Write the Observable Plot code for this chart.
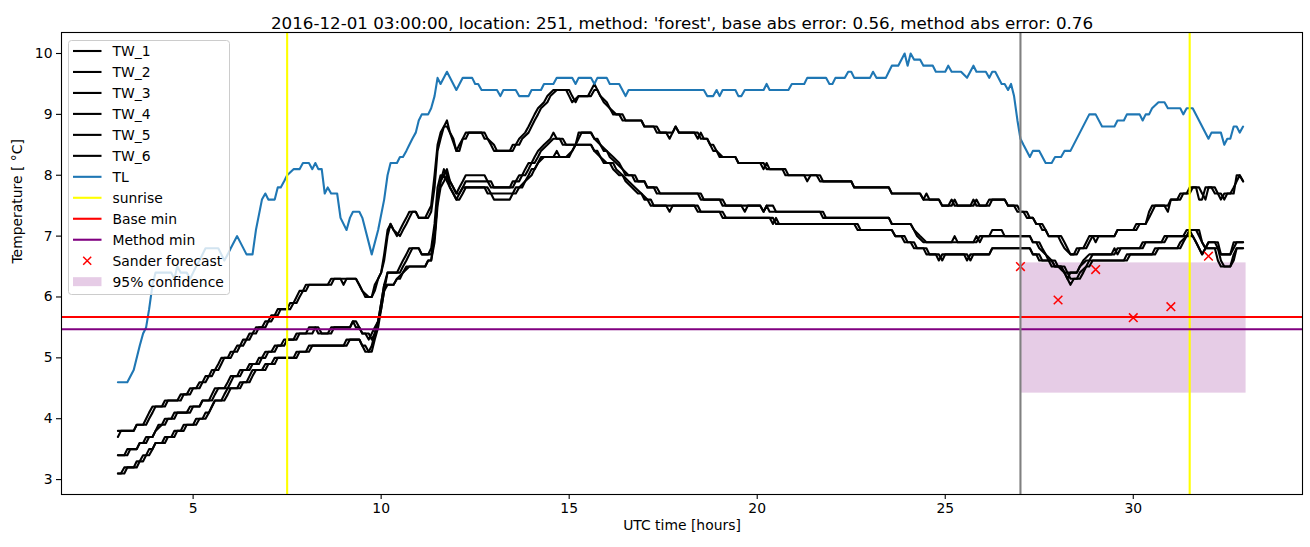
<!DOCTYPE html>
<html><head><meta charset="utf-8">
<script src="https://cdn.jsdelivr.net/npm/d3@7"></script>
<script src="https://cdn.jsdelivr.net/npm/@observablehq/plot@0.6"></script>
<style>body{margin:0;background:#fff;} #chart{width:1310px;height:547px;}</style>
</head><body><div id="chart"></div>
<script>
// ---- data: [time (h), temperature (°C)] vertices ----
const TW_1 = [[3.0,3.7],[3.08,3.8],[3.42,3.8],[3.5,3.9],[3.67,3.9],[3.75,4.0],[3.83,4.1],[3.92,4.2],[4.17,4.2],[4.25,4.3],[4.58,4.3],[4.67,4.4],[4.83,4.4],[4.92,4.5],[5.08,4.5],[5.17,4.6],[5.25,4.6],[5.33,4.7],[5.42,4.7],[5.5,4.8],[5.58,4.8],[5.67,4.9],[5.75,5.0],[5.92,5.0],[6.0,5.1],[6.08,5.1],[6.17,5.2],[6.25,5.2],[6.33,5.3],[6.42,5.3],[6.5,5.4],[6.58,5.4],[6.67,5.5],[6.83,5.5],[6.92,5.6],[7.0,5.6],[7.08,5.7],[7.17,5.7],[7.25,5.8],[7.5,5.8],[7.58,5.9],[7.67,5.9],[7.75,6.0],[7.83,6.1],[7.92,6.1],[8.0,6.2],[8.58,6.2],[8.67,6.3],[8.92,6.3],[9.0,6.2],[9.08,6.3],[9.33,6.3],[9.42,6.2],[9.5,6.1],[9.58,6.0],[9.75,6.0],[9.83,6.2],[9.92,6.3],[10.0,6.4],[10.08,6.7],[10.17,7.1],[10.25,7.2],[10.33,7.1],[10.42,7.0],[10.5,7.1],[10.58,7.2],[10.67,7.3],[10.75,7.4],[10.92,7.4],[11.0,7.3],[11.17,7.3],[11.25,7.4],[11.33,7.5],[11.42,8.0],[11.5,8.5],[11.58,8.7],[11.67,8.8],[11.75,8.9],[11.83,8.7],[11.92,8.6],[12.0,8.4],[12.08,8.5],[12.17,8.6],[12.25,8.7],[12.67,8.7],[12.75,8.6],[12.83,8.6],[12.92,8.5],[13.0,8.4],[13.42,8.4],[13.5,8.5],[13.58,8.5],[13.67,8.6],[13.83,8.7],[13.92,8.8],[14.0,8.9],[14.08,9.0],[14.17,9.1],[14.33,9.2],[14.42,9.3],[14.58,9.4],[14.92,9.4],[15.0,9.3],[15.08,9.2],[15.25,9.3],[15.5,9.3],[15.67,9.5],[15.75,9.4],[15.83,9.3],[15.92,9.2],[16.08,9.1],[16.17,9.0],[16.33,9.0],[16.42,8.9],[16.92,8.9],[17.0,8.8],[17.25,8.8],[17.33,8.7],[17.58,8.7],[17.67,8.6],[17.75,8.7],[17.83,8.8],[17.92,8.7],[18.33,8.7],[18.42,8.6],[18.5,8.7],[18.58,8.6],[18.67,8.6],[18.75,8.5],[18.83,8.4],[18.92,8.4],[19.0,8.3],[19.42,8.3],[19.5,8.2],[20.08,8.2],[20.17,8.1],[20.25,8.2],[20.33,8.1],[20.67,8.1],[20.75,8.0],[21.25,8.0],[21.33,7.9],[21.42,8.0],[21.58,8.0],[21.67,7.9],[22.5,7.9],[22.58,7.8],[23.5,7.8],[23.58,7.7],[24.33,7.7],[24.42,7.6],[24.5,7.7],[24.58,7.6],[24.83,7.6],[24.92,7.5],[25.17,7.5],[25.25,7.6],[25.33,7.5],[25.67,7.5],[25.75,7.6],[25.83,7.5],[26.17,7.5],[26.25,7.6],[26.58,7.6],[26.67,7.5],[26.92,7.5],[27.0,7.4],[27.17,7.4],[27.25,7.3],[27.33,7.3],[27.42,7.2],[27.58,7.2],[27.67,7.1],[27.75,7.0],[28.08,7.0],[28.17,6.9],[28.25,6.8],[28.33,6.7],[28.42,6.7],[28.5,6.8],[28.67,6.8],[28.75,6.9],[28.83,7.0],[28.92,7.0],[29.0,6.9],[29.08,7.0],[29.5,7.0],[29.58,7.1],[30.0,7.1],[30.08,7.2],[30.33,7.2],[30.42,7.3],[30.5,7.4],[30.58,7.5],[30.83,7.5],[30.92,7.4],[31.0,7.6],[31.17,7.6],[31.25,7.7],[31.42,7.7],[31.5,7.8],[31.75,7.8],[31.83,7.7],[31.92,7.6],[32.0,7.8],[32.17,7.8],[32.25,7.7],[32.33,7.6],[32.42,7.7],[32.58,7.7],[32.67,7.8],[32.75,7.9],[32.83,8.0],[32.92,7.9]];
const TW_2 = [[3.0,3.8],[3.42,3.8],[3.5,3.9],[3.75,3.9],[3.83,4.0],[3.92,4.1],[4.0,4.2],[4.25,4.2],[4.33,4.3],[4.67,4.3],[4.75,4.4],[4.92,4.4],[5.0,4.5],[5.17,4.5],[5.25,4.6],[5.33,4.6],[5.42,4.7],[5.5,4.7],[5.58,4.8],[5.67,4.8],[5.75,4.9],[5.83,5.0],[6.0,5.0],[6.08,5.1],[6.17,5.1],[6.25,5.2],[6.33,5.2],[6.42,5.3],[6.5,5.3],[6.58,5.4],[6.67,5.4],[6.75,5.5],[6.92,5.5],[7.0,5.6],[7.08,5.6],[7.17,5.7],[7.25,5.7],[7.33,5.8],[7.58,5.8],[7.67,5.9],[7.75,5.9],[7.83,6.0],[7.92,6.1],[8.0,6.1],[8.08,6.2],[8.67,6.2],[8.75,6.3],[9.33,6.3],[9.5,6.1],[9.67,6.0],[9.75,6.0],[9.83,6.1],[9.92,6.3],[10.0,6.4],[10.08,6.6],[10.17,7.0],[10.25,7.2],[10.33,7.1],[10.5,7.0],[10.58,7.1],[10.67,7.2],[10.75,7.3],[10.83,7.4],[10.92,7.4],[11.0,7.3],[11.25,7.3],[11.33,7.4],[11.42,7.8],[11.5,8.4],[11.58,8.6],[11.67,8.8],[11.75,8.8],[11.83,8.7],[12.0,8.4],[12.08,8.4],[12.17,8.6],[12.25,8.6],[12.33,8.7],[12.75,8.7],[12.83,8.6],[13.0,8.5],[13.08,8.4],[13.5,8.4],[13.58,8.5],[13.67,8.5],[13.75,8.6],[13.92,8.7],[14.0,8.8],[14.08,8.9],[14.17,9.0],[14.25,9.1],[14.42,9.2],[14.5,9.3],[14.67,9.4],[15.0,9.4],[15.08,9.3],[15.17,9.2],[15.25,9.3],[15.58,9.3],[15.67,9.4],[15.75,9.4],[15.83,9.3],[16.0,9.2],[16.08,9.1],[16.25,9.0],[16.42,9.0],[16.5,8.9],[16.92,8.9],[17.0,8.8],[17.33,8.8],[17.42,8.7],[17.75,8.7],[17.83,8.8],[17.92,8.7],[18.42,8.7],[18.5,8.6],[18.67,8.6],[18.75,8.5],[18.83,8.5],[18.92,8.4],[19.08,8.3],[19.42,8.3],[19.5,8.2],[20.17,8.2],[20.25,8.1],[20.75,8.1],[20.83,8.0],[21.67,8.0],[21.75,7.9],[22.5,7.9],[22.58,7.8],[23.5,7.8],[23.58,7.7],[24.33,7.7],[24.42,7.6],[24.83,7.6],[24.92,7.5],[25.08,7.5],[25.17,7.6],[25.25,7.5],[25.75,7.5],[25.83,7.6],[25.92,7.5],[26.08,7.5],[26.17,7.6],[26.58,7.6],[26.67,7.5],[26.83,7.5],[26.92,7.4],[27.08,7.4],[27.17,7.3],[27.33,7.3],[27.42,7.2],[27.5,7.2],[27.58,7.1],[27.67,7.1],[27.75,7.0],[28.0,7.0],[28.08,6.9],[28.17,6.8],[28.33,6.7],[28.42,6.7],[28.5,6.7],[28.58,6.8],[28.75,6.8],[28.83,6.9],[28.92,7.0],[29.5,7.0],[29.58,7.1],[30.08,7.1],[30.17,7.2],[30.33,7.2],[30.42,7.4],[30.5,7.5],[30.92,7.5],[31.0,7.6],[31.25,7.6],[31.33,7.7],[31.5,7.7],[31.58,7.8],[31.67,7.8],[31.75,7.6],[31.83,7.6],[31.92,7.8],[32.08,7.8],[32.17,7.7],[32.33,7.7],[32.42,7.6],[32.5,7.7],[32.67,7.7],[32.75,8.0],[32.83,8.0],[32.92,7.9]];
const TW_3 = [[3.0,3.4],[3.17,3.4],[3.25,3.5],[3.5,3.5],[3.58,3.6],[3.67,3.6],[3.75,3.7],[3.92,3.7],[4.0,3.8],[4.08,3.9],[4.17,3.9],[4.25,4.0],[4.42,4.0],[4.5,4.1],[4.83,4.1],[4.92,4.2],[5.17,4.2],[5.25,4.3],[5.42,4.3],[5.5,4.4],[5.58,4.5],[5.83,4.5],[5.92,4.6],[6.0,4.7],[6.17,4.7],[6.25,4.8],[6.42,4.8],[6.5,4.9],[6.67,4.9],[6.75,5.0],[6.83,5.0],[6.92,5.1],[7.08,5.1],[7.17,5.2],[7.33,5.2],[7.42,5.3],[7.67,5.3],[7.75,5.4],[8.0,5.4],[8.08,5.5],[8.33,5.5],[8.42,5.4],[8.58,5.4],[8.67,5.5],[9.17,5.5],[9.25,5.6],[9.33,5.5],[9.42,5.5],[9.5,5.4],[9.58,5.4],[9.67,5.3],[9.75,5.4],[9.83,5.5],[9.92,5.6],[10.0,5.8],[10.08,6.1],[10.17,6.4],[10.42,6.4],[10.5,6.5],[10.58,6.6],[10.67,6.7],[10.75,6.8],[11.0,6.8],[11.08,6.7],[11.25,6.7],[11.33,6.8],[11.42,7.2],[11.5,7.8],[11.58,8.0],[11.67,8.0],[11.75,8.1],[11.83,7.9],[11.92,7.8],[12.0,7.7],[12.08,7.8],[12.17,7.9],[12.25,8.0],[12.75,8.0],[12.83,7.9],[12.92,7.9],[13.0,7.8],[13.42,7.8],[13.5,7.9],[13.58,7.9],[13.67,8.0],[13.75,8.0],[13.83,8.1],[13.92,8.2],[14.0,8.2],[14.08,8.3],[14.17,8.4],[14.33,8.5],[14.5,8.6],[14.58,8.7],[14.67,8.6],[14.83,8.6],[14.92,8.5],[15.17,8.5],[15.25,8.7],[15.58,8.7],[15.67,8.6],[15.83,8.5],[15.92,8.4],[16.0,8.4],[16.08,8.3],[16.25,8.2],[16.42,8.1],[16.5,8.0],[16.67,8.0],[16.75,7.9],[17.0,7.9],[17.08,7.8],[17.25,7.8],[17.33,7.7],[18.42,7.7],[18.5,7.6],[19.0,7.6],[19.08,7.5],[19.58,7.5],[19.67,7.4],[19.75,7.5],[20.08,7.5],[20.17,7.4],[20.25,7.5],[20.33,7.4],[21.67,7.4],[21.75,7.3],[23.5,7.3],[23.58,7.2],[24.08,7.2],[24.17,7.1],[24.25,7.0],[24.42,6.9],[25.17,6.9],[25.25,7.0],[25.33,6.9],[25.75,6.9],[25.83,7.0],[25.92,6.9],[26.0,7.0],[26.17,7.0],[26.25,7.1],[26.5,7.1],[26.58,7.0],[27.25,7.0],[27.33,6.9],[27.5,6.9],[27.58,6.8],[27.67,6.7],[27.83,6.6],[27.92,6.5],[28.08,6.5],[28.17,6.4],[28.5,6.4],[28.58,6.5],[28.67,6.6],[28.83,6.7],[29.42,6.7],[29.5,6.8],[29.58,6.7],[29.67,6.8],[30.17,6.8],[30.25,6.9],[30.75,6.9],[30.83,7.0],[31.33,7.0],[31.42,7.1],[31.75,7.1],[31.83,6.9],[31.92,6.8],[32.0,6.9],[32.25,6.9],[32.33,6.7],[32.58,6.7],[32.67,6.8],[32.75,6.9],[32.92,6.9]];
const TW_4 = [[3.0,3.4],[3.25,3.4],[3.33,3.5],[3.5,3.5],[3.58,3.6],[3.75,3.6],[3.83,3.7],[3.92,3.7],[4.0,3.8],[4.17,3.9],[4.25,3.9],[4.33,4.0],[4.5,4.0],[4.58,4.1],[4.92,4.1],[5.0,4.2],[5.17,4.2],[5.25,4.3],[5.5,4.3],[5.58,4.4],[5.67,4.5],[5.92,4.5],[6.0,4.6],[6.08,4.7],[6.25,4.7],[6.33,4.8],[6.5,4.8],[6.58,4.9],[6.75,4.9],[6.83,5.0],[6.92,5.0],[7.0,5.1],[7.17,5.1],[7.25,5.2],[7.42,5.2],[7.5,5.3],[7.75,5.3],[7.83,5.4],[8.17,5.4],[8.25,5.5],[8.33,5.4],[8.67,5.4],[8.75,5.5],[9.17,5.5],[9.25,5.6],[9.33,5.6],[9.42,5.5],[9.5,5.4],[9.67,5.4],[9.75,5.3],[9.83,5.4],[9.92,5.6],[10.0,5.9],[10.08,6.2],[10.17,6.4],[10.5,6.4],[10.58,6.5],[10.67,6.6],[10.75,6.7],[10.83,6.8],[11.0,6.8],[11.08,6.7],[11.33,6.7],[11.42,7.0],[11.5,7.6],[11.58,7.9],[11.67,8.1],[11.75,8.0],[11.83,7.9],[12.0,7.7],[12.08,7.7],[12.17,7.8],[12.25,7.9],[12.83,7.9],[12.92,7.8],[13.5,7.8],[13.58,7.9],[13.67,7.9],[13.75,8.0],[13.83,8.0],[13.92,8.1],[14.0,8.2],[14.08,8.2],[14.17,8.3],[14.25,8.4],[14.42,8.5],[14.58,8.6],[14.75,8.6],[14.83,8.5],[15.17,8.5],[15.25,8.6],[15.33,8.7],[15.58,8.7],[15.67,8.6],[15.75,8.6],[15.83,8.5],[16.0,8.4],[16.17,8.3],[16.33,8.2],[16.42,8.1],[16.58,8.0],[16.75,8.0],[16.83,7.9],[17.0,7.9],[17.08,7.8],[17.33,7.8],[17.42,7.7],[18.5,7.7],[18.58,7.6],[19.08,7.6],[19.17,7.5],[20.08,7.5],[20.17,7.4],[20.25,7.5],[20.42,7.5],[20.5,7.4],[21.75,7.4],[21.83,7.3],[23.5,7.3],[23.58,7.2],[24.08,7.2],[24.17,7.1],[24.33,7.0],[24.5,6.9],[25.83,6.9],[25.92,7.0],[27.25,7.0],[27.33,6.9],[27.42,6.9],[27.5,6.8],[27.67,6.7],[27.75,6.6],[27.92,6.6],[28.0,6.5],[28.17,6.4],[28.25,6.3],[28.33,6.4],[28.5,6.4],[28.58,6.5],[28.75,6.6],[28.83,6.6],[28.92,6.7],[29.5,6.7],[29.58,6.8],[30.25,6.8],[30.33,6.9],[30.83,6.9],[30.92,7.0],[31.42,7.0],[31.5,7.1],[31.67,7.1],[31.75,7.0],[31.83,6.9],[31.92,6.8],[32.0,6.9],[32.17,6.9],[32.25,6.8],[32.33,6.7],[32.58,6.7],[32.67,6.9],[32.92,6.9]];
const TW_5 = [[3.0,3.1],[3.17,3.1],[3.25,3.2],[3.5,3.2],[3.58,3.3],[3.67,3.3],[3.75,3.4],[3.83,3.4],[3.92,3.5],[4.0,3.6],[4.25,3.6],[4.33,3.7],[4.5,3.7],[4.58,3.8],[4.75,3.8],[4.83,3.9],[5.08,3.9],[5.17,4.0],[5.33,4.0],[5.42,4.1],[5.5,4.2],[5.58,4.3],[5.83,4.3],[5.92,4.4],[6.0,4.5],[6.25,4.5],[6.33,4.6],[6.5,4.6],[6.58,4.7],[6.67,4.8],[6.92,4.8],[7.0,4.9],[7.17,4.9],[7.25,5.0],[7.75,5.0],[7.83,5.1],[8.08,5.1],[8.17,5.2],[9.08,5.2],[9.17,5.3],[9.42,5.3],[9.5,5.2],[9.58,5.1],[9.67,5.1],[9.75,5.2],[9.83,5.4],[9.92,5.6],[10.0,5.9],[10.08,6.2],[10.33,6.2],[10.42,6.3],[10.58,6.4],[10.67,6.5],[11.17,6.5],[11.25,6.6],[11.33,6.6],[11.42,6.9],[11.5,7.5],[11.58,7.8],[11.67,7.9],[11.75,8.0],[11.83,7.8],[11.92,7.7],[12.0,7.6],[12.08,7.7],[12.17,7.8],[12.83,7.8],[12.92,7.7],[13.0,7.6],[13.42,7.6],[13.5,7.7],[13.58,7.7],[13.67,7.8],[13.83,7.9],[13.92,8.0],[14.0,8.1],[14.08,8.1],[14.17,8.2],[14.33,8.3],[14.92,8.3],[15.08,8.4],[15.17,8.5],[15.58,8.5],[15.67,8.4],[15.83,8.3],[15.92,8.2],[16.08,8.2],[16.17,8.1],[16.33,8.0],[16.42,8.0],[16.5,7.9],[16.67,7.8],[16.83,7.7],[16.92,7.7],[17.0,7.6],[17.17,7.6],[17.25,7.5],[17.58,7.5],[17.67,7.4],[17.75,7.5],[18.42,7.5],[18.5,7.4],[19.0,7.4],[19.08,7.3],[20.33,7.3],[20.42,7.2],[20.5,7.3],[20.58,7.2],[22.58,7.2],[22.67,7.1],[23.58,7.1],[23.67,7.0],[23.83,7.0],[23.92,6.9],[24.08,6.9],[24.17,6.8],[24.42,6.8],[24.5,6.7],[24.75,6.7],[24.83,6.6],[24.92,6.7],[25.5,6.7],[25.58,6.6],[25.67,6.7],[26.17,6.7],[26.25,6.8],[27.25,6.8],[27.33,6.7],[27.42,6.7],[27.5,6.6],[27.75,6.6],[27.83,6.5],[28.08,6.5],[28.17,6.4],[28.25,6.3],[28.33,6.2],[28.42,6.3],[28.58,6.3],[28.67,6.4],[28.75,6.5],[28.83,6.5],[28.92,6.6],[29.83,6.6],[29.92,6.7],[30.58,6.7],[30.67,6.8],[31.25,6.8],[31.33,6.9],[31.42,7.0],[31.58,7.0],[31.67,6.9],[31.75,6.8],[31.83,6.7],[31.92,6.8],[32.17,6.8],[32.25,6.6],[32.33,6.5],[32.58,6.5],[32.67,6.7],[32.75,6.8],[32.92,6.8]];
const TW_6 = [[3.0,3.1],[3.08,3.1],[3.17,3.2],[3.42,3.2],[3.5,3.3],[3.58,3.3],[3.67,3.4],[3.75,3.4],[3.83,3.5],[3.92,3.5],[4.0,3.6],[4.17,3.6],[4.25,3.7],[4.42,3.7],[4.5,3.8],[4.67,3.8],[4.75,3.9],[5.0,3.9],[5.08,4.0],[5.25,4.0],[5.33,4.1],[5.42,4.1],[5.5,4.2],[5.58,4.3],[5.75,4.3],[5.83,4.4],[5.92,4.5],[6.17,4.5],[6.25,4.6],[6.42,4.6],[6.5,4.7],[6.58,4.8],[6.83,4.8],[6.92,4.9],[7.08,4.9],[7.17,5.0],[7.67,5.0],[7.75,5.1],[8.0,5.1],[8.08,5.2],[9.0,5.2],[9.08,5.3],[9.42,5.3],[9.5,5.2],[9.58,5.2],[9.67,5.1],[9.75,5.1],[9.83,5.3],[9.92,5.5],[10.0,5.8],[10.08,6.1],[10.17,6.2],[10.33,6.2],[10.42,6.3],[10.5,6.3],[10.58,6.4],[10.75,6.5],[11.17,6.5],[11.25,6.6],[11.33,6.6],[11.42,7.0],[11.5,7.6],[11.58,7.9],[11.67,8.0],[11.75,7.9],[11.83,7.8],[12.0,7.6],[12.08,7.6],[12.17,7.7],[12.25,7.8],[12.75,7.8],[12.83,7.7],[13.5,7.7],[13.58,7.8],[13.75,7.8],[13.83,7.9],[14.0,8.0],[14.08,8.1],[14.17,8.2],[14.25,8.3],[14.58,8.3],[14.67,8.4],[14.75,8.3],[15.0,8.3],[15.08,8.4],[15.17,8.5],[15.58,8.5],[15.67,8.4],[15.75,8.4],[15.83,8.3],[16.0,8.2],[16.17,8.2],[16.25,8.1],[16.42,8.0],[16.58,7.9],[16.75,7.8],[16.92,7.7],[17.08,7.6],[17.17,7.5],[18.33,7.5],[18.42,7.4],[19.08,7.4],[19.17,7.3],[20.42,7.3],[20.5,7.2],[22.67,7.2],[22.75,7.1],[23.58,7.1],[23.67,7.0],[23.92,7.0],[24.0,6.9],[24.17,6.9],[24.25,6.8],[24.5,6.8],[24.58,6.7],[24.83,6.7],[24.92,6.6],[25.0,6.7],[25.58,6.7],[25.67,6.6],[25.75,6.7],[26.17,6.7],[26.25,6.8],[27.25,6.8],[27.33,6.7],[27.5,6.7],[27.58,6.6],[27.83,6.6],[27.92,6.5],[28.17,6.5],[28.25,6.4],[28.33,6.3],[28.5,6.3],[28.58,6.4],[28.75,6.5],[28.83,6.6],[29.75,6.6],[29.83,6.7],[30.5,6.7],[30.58,6.8],[31.17,6.8],[31.25,6.9],[31.42,7.0],[31.5,7.1],[31.58,7.0],[31.67,6.9],[31.75,6.8],[31.83,6.7],[31.92,6.8],[32.25,6.8],[32.33,6.6],[32.42,6.5],[32.58,6.5],[32.67,6.6],[32.75,6.8],[32.92,6.8]];
const TL = [[3.0,4.6],[3.25,4.6],[3.42,4.8],[3.58,5.2],[3.67,5.4],[3.75,5.5],[3.83,5.8],[3.92,6.2],[4.0,6.4],[4.42,6.4],[4.5,6.3],[4.58,6.5],[4.67,6.4],[4.83,6.4],[4.92,6.3],[5.0,6.4],[5.08,6.5],[5.17,6.6],[5.33,6.8],[5.67,6.8],[5.75,6.7],[5.83,6.6],[5.92,6.7],[6.0,6.8],[6.17,7.0],[6.42,6.7],[6.58,6.7],[6.67,7.1],[6.83,7.6],[6.92,7.7],[7.0,7.6],[7.17,7.6],[7.25,7.8],[7.33,7.8],[7.42,7.9],[7.5,8.0],[7.67,8.1],[7.83,8.1],[7.92,8.2],[8.08,8.2],[8.17,8.1],[8.25,8.2],[8.33,8.1],[8.42,8.1],[8.5,7.7],[8.58,7.8],[8.67,7.7],[8.83,7.7],[8.92,7.3],[9.08,7.1],[9.17,7.3],[9.25,7.4],[9.42,7.4],[9.5,7.3],[9.75,6.7],[9.92,7.1],[10.08,7.6],[10.17,8.0],[10.25,8.2],[10.42,8.2],[10.5,8.3],[10.58,8.3],[10.67,8.4],[10.75,8.5],[10.83,8.6],[10.92,8.7],[11.0,8.9],[11.08,9.0],[11.25,9.0],[11.33,9.1],[11.42,9.3],[11.5,9.6],[11.58,9.5],[11.75,9.7],[12.0,9.4],[12.17,9.6],[12.42,9.6],[12.5,9.5],[12.58,9.5],[12.67,9.4],[13.08,9.4],[13.17,9.3],[13.25,9.4],[13.58,9.4],[13.67,9.3],[13.92,9.3],[14.0,9.4],[14.25,9.4],[14.33,9.5],[14.58,9.5],[14.67,9.6],[15.08,9.6],[15.17,9.5],[15.25,9.6],[15.58,9.6],[15.67,9.5],[15.75,9.6],[16.0,9.6],[16.08,9.5],[16.33,9.5],[16.5,9.3],[16.58,9.4],[18.58,9.4],[18.67,9.3],[18.83,9.3],[18.92,9.4],[19.0,9.3],[19.08,9.4],[19.42,9.4],[19.5,9.3],[19.58,9.3],[19.67,9.4],[20.17,9.4],[20.25,9.5],[20.33,9.4],[20.83,9.4],[20.92,9.5],[21.25,9.5],[21.33,9.6],[21.83,9.6],[21.92,9.5],[22.0,9.5],[22.08,9.6],[22.33,9.6],[22.42,9.7],[22.5,9.7],[22.58,9.6],[23.0,9.6],[23.08,9.7],[23.17,9.6],[23.42,9.6],[23.5,9.7],[23.58,9.8],[23.75,9.8],[23.92,10.0],[24.0,9.8],[24.08,10.0],[24.17,9.9],[24.33,9.9],[24.42,9.8],[24.67,9.8],[24.75,9.7],[25.0,9.7],[25.08,9.8],[25.17,9.7],[25.42,9.7],[25.58,9.6],[25.75,9.8],[25.83,9.7],[26.08,9.7],[26.17,9.6],[26.25,9.7],[26.33,9.7],[26.5,9.5],[26.58,9.5],[26.67,9.4],[26.75,9.5],[26.83,9.3],[26.92,8.9],[27.0,8.6],[27.08,8.5],[27.25,8.3],[27.33,8.4],[27.5,8.4],[27.67,8.2],[27.83,8.2],[27.92,8.3],[28.08,8.3],[28.17,8.4],[28.33,8.4],[28.83,9.0],[29.0,9.0],[29.17,8.8],[29.5,8.8],[29.58,8.9],[29.75,8.9],[29.83,9.0],[30.17,9.0],[30.25,8.9],[30.33,9.0],[30.42,9.0],[30.5,9.1],[30.67,9.2],[30.83,9.2],[30.92,9.1],[31.25,9.1],[31.33,9.0],[31.42,9.1],[31.58,9.1],[32.0,8.6],[32.08,8.7],[32.33,8.7],[32.42,8.5],[32.5,8.6],[32.58,8.6],[32.67,8.8],[32.75,8.8],[32.83,8.7],[32.92,8.8]];
const sunriseTimes = [7.5, 31.5];
const forecastStart = [27];
const baseMin = [5.67];
const methodMin = [5.47];
const sanderTime = [27, 28, 29, 30, 31, 32];
const sanderTemp = [6.5, 5.95, 6.45, 5.66, 5.84, 6.67];
const confTime = [27, 33];
const confTemp = [4.42, 6.56];
const xTicks = [5, 10, 15, 20, 25, 30];
const yTicks = [3, 4, 5, 6, 7, 8, 9, 10];
const legendLabels = ["TW_1","TW_2","TW_3","TW_4","TW_5","TW_6","TL","sunrise","Base min","Method min","Sander forecast","95% confidence"];
const titleText = "2016-12-01 03:00:00, location: 251, method: 'forest', base abs error: 0.56, method abs error: 0.76";
const xLabel = "UTC time [hours]";
const yLabel = "Temperature [ °C]";

// ---- chart ----
const twSeries = [TW_1, TW_2, TW_3, TW_4, TW_5, TW_6];
const lw = 2.1;
const sander = sanderTime.map((t, i) => ({t, v: sanderTemp[i]}));
const conf = [{x1: confTime[0], x2: confTime[1], y1: confTemp[0], y2: confTemp[1]}];

const svg = Plot.plot({
  width: 1310, height: 547,
  marginLeft: 61, marginRight: 8, marginTop: 32, marginBottom: 53,
  style: {fontFamily: "'DejaVu Sans', sans-serif", fontSize: "13.9px", color: "black", background: "white"},
  x: {domain: [1.5, 34.5]},
  y: {domain: [2.755, 10.345]},
  marks: [
    Plot.rect(conf, {x1: "x1", x2: "x2", y1: "y1", y2: "y2", fill: "purple", fillOpacity: 0.2}),
    ...twSeries.map(s => Plot.line(s, {x: d => d[0], y: d => d[1], stroke: "black", strokeWidth: lw})),
    Plot.line(TL, {x: d => d[0], y: d => d[1], stroke: "#1f77b4", strokeWidth: lw}),
    Plot.ruleX(sunriseTimes, {stroke: "yellow", strokeWidth: lw}),
    Plot.ruleY(baseMin, {stroke: "red", strokeWidth: lw}),
    Plot.ruleY(methodMin, {stroke: "purple", strokeWidth: lw}),
    Plot.dot(sander, {x: "t", y: "v", symbol: "times", stroke: "red", r: 4, strokeWidth: 1.5}),
    Plot.ruleX(forecastStart, {stroke: "gray", strokeWidth: lw}),
    Plot.frame({stroke: "black", strokeWidth: 1.1}),
    Plot.axisX({ticks: xTicks, tickSize: 5, tickPadding: 4, label: null, strokeWidth: 1.1}),
    Plot.axisY({ticks: yTicks, tickSize: 5, tickPadding: 4, label: null, strokeWidth: 1.1}),
    Plot.text([titleText], {text: d => d, frameAnchor: "top", dy: -15, fontSize: 16.7}),
    Plot.text([xLabel], {text: d => d, frameAnchor: "bottom", dy: 35}),
    Plot.text([yLabel], {text: d => d, frameAnchor: "left", dx: -44, rotate: -90})
  ]
});
document.getElementById("chart").appendChild(svg);

// ---- legend (matplotlib style box, upper left) ----
const s = d3.select(svg);
const lg = s.append("g")
  .attr("font-family", "'DejaVu Sans', sans-serif")
  .attr("font-size", "13.9px")
  .attr("text-anchor", "start");
lg.append("rect").attr("x", 68.5).attr("y", 40.5).attr("width", 161).attr("height", 254)
  .attr("rx", 3).attr("fill", "white").attr("fill-opacity", 0.8).attr("stroke", "#cccccc").attr("stroke-width", 1);
const colors = ["black","black","black","black","black","black","#1f77b4","yellow","red","purple"];
const step = 20.97;
legendLabels.forEach((lab, i) => {
  const y = 51 + i * step;
  if (i < 10) {
    lg.append("line").attr("x1", 73).attr("x2", 101.5).attr("y1", y).attr("y2", y)
      .attr("stroke", colors[i]).attr("stroke-width", lw);
  } else if (i === 10) {
    lg.append("path").attr("d", `M${87.2-4},${y-4}L${87.2+4},${y+4}M${87.2-4},${y+4}L${87.2+4},${y-4}`)
      .attr("stroke", "red").attr("stroke-width", 1.5).attr("fill", "none");
  } else {
    lg.append("rect").attr("x", 73).attr("y", y - 4.5).attr("width", 28.5).attr("height", 9)
      .attr("fill", "purple").attr("fill-opacity", 0.2);
  }
  lg.append("text").attr("x", 112.5).attr("y", y).attr("dy", "0.35em")
    .attr("text-anchor", "start").attr("fill", "black").text(lab);
});
</script>
</body></html>
